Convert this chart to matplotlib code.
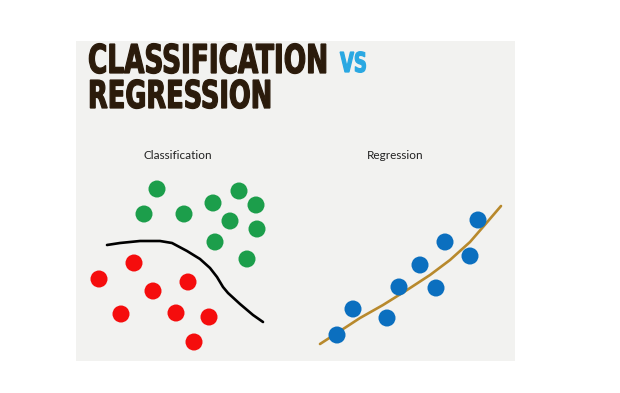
import matplotlib
matplotlib.use("Agg")
import matplotlib.pyplot as plt
from matplotlib.patches import Rectangle
from matplotlib.patheffects import AbstractPathEffect
from matplotlib.transforms import Affine2D

# class dots (pixel coordinates)
green_x = [157, 144, 184, 213, 239, 256, 230, 257, 215, 247]
green_y = [189, 214, 214, 203, 191, 205, 221, 229, 242, 259]
red_x = [134, 99, 153, 188, 121, 176, 209, 194]
red_y = [263, 279, 291, 282, 314, 313, 317, 342]

# decision boundary
bound_x = [107, 120, 140, 160, 172, 187, 200, 210, 217, 223, 228, 240, 253, 263]
bound_y = [245, 243, 241, 241, 243, 251, 259, 268, 277, 287, 293, 304, 315, 322]

# regression points and fit
blue_x = [337, 353, 387, 399, 420, 436, 445, 470, 478]
blue_y = [335, 309, 318, 287, 265, 288, 242, 256, 220]
fit_x = [320, 337, 360, 383, 407, 430, 450, 470, 483, 501]
fit_y = [344, 333, 318, 305, 290, 275, 260, 242, 227, 206]


class Tall(AbstractPathEffect):
    """stretch glyphs upward from the baseline and thicken them a bit"""

    def __init__(self, sy=1.0, lw=0.0):
        super().__init__()
        self.sy = sy
        self.lw = lw

    def draw_path(self, renderer, gc, tpath, affine, rgbFace=None):
        aff = Affine2D().scale(1, self.sy) + affine
        gc0 = renderer.new_gc()
        gc0.copy_properties(gc)
        gc0.set_linewidth(self.lw)
        gc0.set_foreground(rgbFace)
        gc0.set_joinstyle("miter")
        renderer.draw_path(gc0, tpath, aff, rgbFace)
        gc0.restore()


W, H = 620, 393
fig = plt.figure(figsize=(W / 100, H / 100), dpi=100)
ax = fig.add_axes([0, 0, 1, 1])
ax.set_xlim(0, W)
ax.set_ylim(H, 0)
ax.axis("off")

ax.add_patch(Rectangle((76, 41), 439, 320, facecolor="#f2f2f0", edgecolor="none", zorder=0))

brown = "#2b1b0b"
kw = dict(fontweight="bold", family="DejaVu Sans", fontstretch="condensed",
          va="baseline", ha="left")
t1 = ax.text(88, 73, "CLASSIFICATION", fontsize=20, color=brown, **kw)
t2 = ax.text(88, 108, "REGRESSION", fontsize=20, color=brown, **kw)
t3 = ax.text(340, 72, "VS", fontsize=14, color="#2aa8e2", **kw)

# squeeze the title words into the widths and heights they take on the slide
fig.canvas.draw()
r = fig.canvas.get_renderer()
for t, target_w, cap_h in [(t1, 240, 29), (t2, 184, 28), (t3, 27, 20)]:
    w = t.get_window_extent(r).width
    fs = t.get_fontsize() * target_w / w
    t.set_fontsize(fs)
    cap_now = 0.73 * fs * 100 / 72
    t.set_path_effects([Tall(sy=cap_h / cap_now, lw=0.9)])

ax.text(178, 159, "Classification", fontsize=8.5, family="Lato",
        color="#222222", ha="center", va="baseline")
ax.text(395, 159, "Regression", fontsize=8.5, family="Lato",
        color="#222222", ha="center", va="baseline")

ax.plot(bound_x, bound_y, color="black", lw=1.9, solid_capstyle="round", zorder=2)
ax.scatter(green_x, green_y, s=150, color="#1c9e4b", edgecolors="none", zorder=3)
ax.scatter(red_x, red_y, s=150, color="#f50d0d", edgecolors="none", zorder=3)

ax.plot(fit_x, fit_y, color="#b8892c", lw=1.9, solid_capstyle="round", zorder=2)
ax.scatter(blue_x, blue_y, s=150, color="#0b6fbf", edgecolors="none", zorder=3)

fig.savefig("out.png", dpi=100, facecolor="white")
